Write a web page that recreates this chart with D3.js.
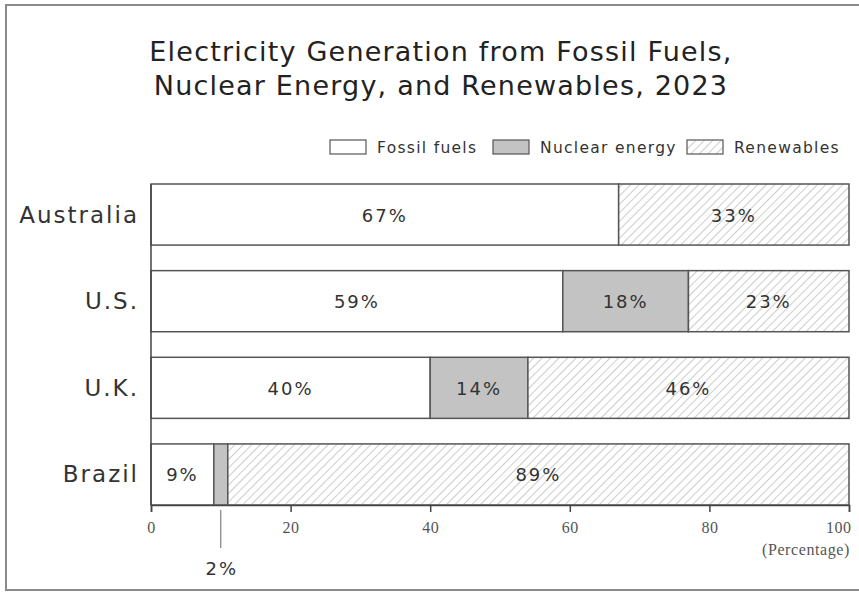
<!DOCTYPE html>
<html>
<head>
  <meta charset="UTF-8">
  <title>Electricity Generation 2023</title>
  <script src="https://cdn.jsdelivr.net/npm/d3@7"></script>
  <style>
    body { margin: 0; background: #fff; }
  </style>
</head>
<body>
  <svg id="chart" width="859" height="593" font-family="DejaVu Sans, sans-serif"></svg>
  <script>
    // data
    const countries = ['Australia', 'U.S.', 'U.K.', 'Brazil'];
    const fossil = [67, 59, 40, 9];
    const nuclear = [0, 18, 14, 2];
    const renewables = [33, 23, 46, 89];
    const xTicks = [0, 20, 40, 60, 80, 100];
    const seriesNames = ['Fossil fuels', 'Nuclear energy', 'Renewables'];

    const svg = d3.select('#chart');
    const serif = '"Liberation Serif", "DejaVu Serif", serif';

    // hatch
    const defs = svg.append('defs');
    const pat = defs.append('pattern')
      .attr('id', 'hatch')
      .attr('patternUnits', 'userSpaceOnUse')
      .attr('width', 6).attr('height', 6)
      .attr('patternTransform', 'rotate(45)');
    pat.append('rect').attr('width', 6).attr('height', 6).attr('fill', '#fff');
    pat.append('line').attr('x1', 0).attr('y1', 0).attr('x2', 0).attr('y2', 6)
      .attr('stroke', '#999').attr('stroke-width', 1);

    const fills = ['#fff', '#c3c3c3', 'url(#hatch)'];

    // frame
    svg.append('rect').attr('x', 6).attr('y', 5).attr('width', 870).attr('height', 585)
      .attr('fill', 'none').attr('stroke', '#8a8a8a').attr('stroke-width', 2);

    // title
    const title = svg.append('text').attr('text-anchor', 'middle').attr('fill', '#222')
      .attr('font-size', 27).attr('letter-spacing', 1.2);
    title.append('tspan').attr('x', 441).attr('y', 61).text('Electricity Generation from Fossil Fuels,');
    title.append('tspan').attr('x', 441).attr('y', 95).text('Nuclear Energy, and Renewables, 2023');

    const x = d3.scaleLinear().domain([0, 100]).range([151, 849]);
    const y = d3.scaleBand().domain(countries).range([184, 505]).paddingInner(0.295).paddingOuter(0);

    const rows = countries.map((c, i) => ({country: c, values: [fossil[i], nuclear[i], renewables[i]]}));
    const stack = d3.stack().keys([0, 1, 2]).value((d, k) => d.values[k]);
    const layers = stack(rows);

    const g = svg.append('g');
    layers.forEach((layer, k) => {
      g.selectAll(null).data(layer.filter(d => d[1] > d[0])).enter().append('rect')
        .attr('x', d => x(d[0]))
        .attr('y', d => y(d.data.country))
        .attr('width', d => x(d[1]) - x(d[0]))
        .attr('height', y.bandwidth())
        .attr('fill', fills[k])
        .attr('stroke', '#555')
        .attr('stroke-width', 1.5);
      g.selectAll(null).data(layer.filter(d => d[1] - d[0] >= 5)).enter().append('text')
        .attr('x', d => x((d[0] + d[1]) / 2))
        .attr('y', d => y(d.data.country) + y.bandwidth() / 2 + 7)
        .attr('text-anchor', 'middle')
        .attr('font-size', 18)
        .attr('letter-spacing', 2)
        .attr('fill', '#333')
        .text(d => (d[1] - d[0]) + '%');
    });

    // small nuclear label for Brazil with leader
    const bz = layers[1][3];
    const bx = x((bz[0] + bz[1]) / 2);
    const axisY = y('Brazil') + y.bandwidth();
    svg.append('line').attr('x1', bx).attr('x2', bx).attr('y1', axisY + 5).attr('y2', axisY + 43)
      .attr('stroke', '#666').attr('stroke-width', 1);
    svg.append('text').attr('x', bx + 1).attr('y', axisY + 70).attr('text-anchor', 'middle')
      .attr('font-size', 18).attr('letter-spacing', 2).attr('fill', '#333').text((bz[1] - bz[0]) + '%');

    // country labels
    svg.selectAll(null).data(countries).enter().append('text')
      .attr('x', 139)
      .attr('y', d => y(d) + y.bandwidth() / 2 + 8)
      .attr('text-anchor', 'end')
      .attr('font-size', 23)
      .attr('letter-spacing', 2)
      .attr('fill', '#333')
      .text(d => d);

    // y axis line
    svg.append('line').attr('x1', x(0)).attr('x2', x(0))
      .attr('y1', y(countries[0])).attr('y2', axisY)
      .attr('stroke', '#444').attr('stroke-width', 1.5);

    // x axis
    const xAxis = svg.append('g').attr('transform', `translate(0,${axisY})`)
      .call(d3.axisBottom(x).tickValues(xTicks).tickSize(7).tickPadding(10));
    xAxis.select('.domain').attr('stroke', '#444').attr('stroke-width', 1.5);
    xAxis.selectAll('.tick line').attr('stroke', '#444').attr('stroke-width', 1.5);
    xAxis.selectAll('.tick text')
      .attr('font-family', serif)
      .attr('font-size', 16).attr('letter-spacing', 0.5).attr('fill', '#555');
    xAxis.select('.tick:last-of-type text').attr('text-anchor', 'end').attr('dx', 2);
    svg.append('text').attr('x', 850).attr('y', axisY + 50).attr('text-anchor', 'end')
      .attr('font-family', serif).attr('letter-spacing', 0.6)
      .attr('font-size', 16).attr('fill', '#555').text('(Percentage)');

    // legend
    const legendX = [330, 493, 687];
    const lg = svg.append('g').selectAll(null).data(seriesNames).enter().append('g')
      .attr('transform', (d, i) => `translate(${legendX[i]},140)`);
    lg.append('rect').attr('width', 36).attr('height', 14)
      .attr('fill', (d, i) => fills[i]).attr('stroke', '#555').attr('stroke-width', 1.2);
    lg.append('text').attr('x', 47).attr('y', 13).attr('font-size', 15.5).attr('letter-spacing', 1.3)
      .attr('fill', '#333').text(d => d);
  </script>
</body>
</html>
